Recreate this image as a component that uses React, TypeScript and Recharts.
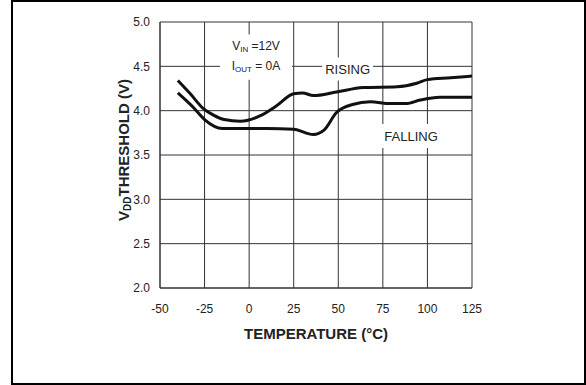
import React from "react";
import {
  LineChart,
  Line,
  XAxis,
  YAxis,
  CartesianGrid,
  ReferenceArea,
} from "recharts";

const xTicks = [-50, -25, 0, 25, 50, 75, 100, 125];
const yTicks = [2.0, 2.5, 3.0, 3.5, 4.0, 4.5, 5.0];

const risingTemp = [-40, -33, -26, -20, -14, -5, 6, 15, 25, 30, 36, 49, 64, 83, 94, 100, 113, 125];
const risingV = [4.34, 4.19, 4.03, 3.95, 3.9, 3.88, 3.94, 4.05, 4.19, 4.2, 4.17, 4.21, 4.26, 4.27, 4.31, 4.35, 4.37, 4.39];

const fallingTemp = [-40, -31, -25, -15, -7, 10, 25, 36, 42, 49, 58, 68, 79, 88, 96, 107, 125];
const fallingV = [4.2, 4.03, 3.9, 3.8, 3.8, 3.8, 3.79, 3.73, 3.78, 3.98, 4.07, 4.1, 4.08, 4.08, 4.12, 4.15, 4.15];

const rising = risingTemp.map((t, i) => ({ t, v: risingV[i] }));
const falling = fallingTemp.map((t, i) => ({ t, v: fallingV[i] }));

const FONT = "'Liberation Sans', Arial, Helvetica, sans-serif";

const YTitle = (props: any) => {
  const vb = props.viewBox || { x: 0, y: 22, width: 160, height: 266 };
  const cx = vb.x + 123;
  const cy = vb.y + 128;
  return (
    <text
      x={cx}
      y={cy}
      transform={`rotate(-90 ${cx} ${cy})`}
      textAnchor="middle"
      dominantBaseline="central"
      fontFamily={FONT}
      fontWeight="bold"
      fontSize={15}
      fill="#222"
    >
      <tspan>V</tspan>
      <tspan fontSize={10} dy={4}>DD</tspan>
      <tspan dy={-4}>THRESHOLD (V)</tspan>
    </text>
  );
};

const CondLabel = (props: any) => {
  const vb = props.viewBox || { x: 0, y: 0, width: 0, height: 0 };
  const cx = vb.x + vb.width / 2;
  const y1 = vb.y + 16;
  const y2 = vb.y + 36;
  return (
    <g fontFamily={FONT} fill="#222" fontSize={12}>
      <text x={cx} y={y1} textAnchor="middle">
        <tspan>V</tspan>
        <tspan fontSize={8} dy={2}>IN</tspan>
        <tspan dy={-2}> =12V</tspan>
      </text>
      <text x={cx} y={y2} textAnchor="middle">
        <tspan>I</tspan>
        <tspan fontSize={8} dy={2}>OUT</tspan>
        <tspan dy={-2}> = 0A</tspan>
      </text>
    </g>
  );
};

export default function App() {
  return (
    <div style={{ position: "absolute", left: 0, top: 0, width: 586, height: 385, background: "#fff" }}>
      <div
        style={{
          position: "absolute",
          left: 11,
          top: 0,
          width: 575,
          height: 385,
          boxSizing: "border-box",
          border: "2px solid #000",
        }}
      />
      <div style={{ position: "absolute", left: 0, top: 0 }}>
        <LineChart
          width={586}
          height={385}
          margin={{ top: 22, right: 114, bottom: 0, left: 0 }}
          style={{ fontFamily: FONT }}
        >
          <CartesianGrid stroke="#333" strokeWidth={1} />
          <XAxis
            type="number"
            dataKey="t"
            domain={[-50, 125]}
            ticks={xTicks}
            allowDataOverflow
            tickLine={false}
            tickSize={14}
            tickMargin={2}
            height={97}
            axisLine={{ stroke: "#333" }}
            tick={{ fontSize: 12, fill: "#222", fontFamily: FONT }}
            label={{
              value: "TEMPERATURE (°C)",
              position: "insideTop",
              offset: 40,
              style: { fontSize: 15, fontWeight: "bold", fill: "#222", fontFamily: FONT },
            }}
          />
          <YAxis
            type="number"
            domain={[2, 5]}
            ticks={yTicks}
            width={160}
            tickLine={false}
            tickSize={8}
            tickMargin={2}
            axisLine={{ stroke: "#333" }}
            tickFormatter={(v: number) => v.toFixed(1)}
            tick={{ fontSize: 12, fill: "#222", fontFamily: FONT }}
            label={<YTitle />}
          />
          <ReferenceArea
            x1={-16.3}
            x2={24}
            y1={4.35}
            y2={4.86}
            fill="#fff"
            fillOpacity={1}
            stroke="none"
            ifOverflow="visible"
            label={<CondLabel />}
          />
          <ReferenceArea
            x1={41}
            x2={69.5}
            y1={4.34}
            y2={4.6}
            fill="#fff"
            fillOpacity={1}
            stroke="none"
            label={{ value: "RISING", position: "center", fontSize: 13, fill: "#222", fontFamily: FONT }}
          />
          <ReferenceArea
            x1={72.3}
            x2={109.3}
            y1={3.58}
            y2={3.85}
            fill="#fff"
            fillOpacity={1}
            stroke="none"
            label={{ value: "FALLING", position: "center", fontSize: 13, fill: "#222", fontFamily: FONT }}
          />
          <Line
            data={rising}
            dataKey="v"
            type="monotone"
            stroke="#111"
            strokeWidth={3}
            dot={false}
            isAnimationActive={false}
          />
          <Line
            data={falling}
            dataKey="v"
            type="monotone"
            stroke="#111"
            strokeWidth={3}
            dot={false}
            isAnimationActive={false}
          />
        </LineChart>
      </div>
    </div>
  );
}
